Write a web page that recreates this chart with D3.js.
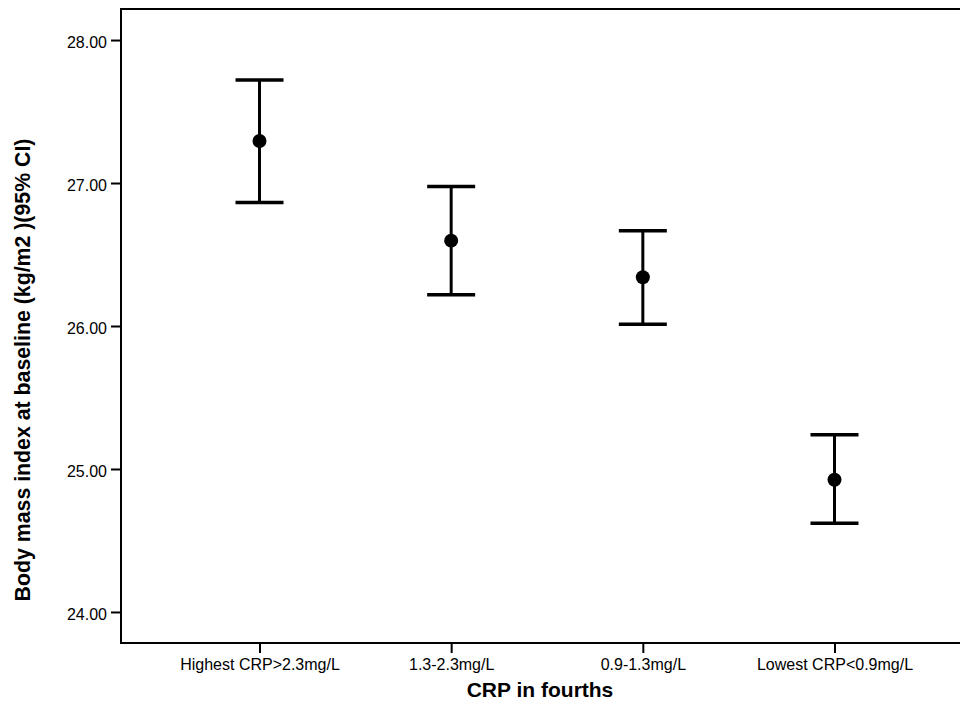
<!DOCTYPE html>
<html>
<head>
<meta charset="utf-8">
<script src="https://cdnjs.cloudflare.com/ajax/libs/d3/7.8.5/d3.min.js"></script>
<style>
  body { margin: 0; background: #fff; }
  svg { display: block; font-family: Arial, "Liberation Sans", sans-serif; }
</style>
</head>
<body>
<div class="bigboard"></div>
<script>
// CRP groups and BMI mean with 95% CI
var categories = ["Highest CRP>2.3mg/L", "1.3-2.3mg/L", "0.9-1.3mg/L", "Lowest CRP<0.9mg/L"];
var means = [27.294, 26.597, 26.341, 24.925];
var lower = [26.864, 26.218, 26.013, 24.620];
var upper = [27.720, 26.975, 26.667, 25.239];
var yTicks = [24, 25, 26, 27, 28];

var width = 960, height = 704;
var margin = { top: 9, left: 121, right: -13, bottom: 61 };
var plotW = width - margin.left - margin.right;
var plotH = height - margin.top - margin.bottom;

var svg = d3.select('.bigboard').append('svg')
  .attr('width', width)
  .attr('height', height)

var x = d3.scalePoint()
  .domain(categories)
  .range([margin.left, margin.left + plotW])
  .padding(0.7226)

var y = d3.scaleLinear()
  .domain([23.783, 28.217])
  .range([margin.top + plotH, margin.top])

// frame
svg.append('rect')
  .attr('x', margin.left)
  .attr('y', margin.top)
  .attr('width', plotW)
  .attr('height', plotH)
  .attr('fill', 'none')
  .attr('stroke', '#000')
  .attr('stroke-width', 2)

var yAxis = svg.append('g')
  .attr('transform', 'translate(' + margin.left + ',0)')
  .call(d3.axisLeft(y).tickValues(yTicks).tickSize(10).tickPadding(4)
    .tickFormat(function(d){ return d3.format('.2f')(d) }))
yAxis.select('.domain').remove()
yAxis.selectAll('line').attr('stroke-width', 2)
yAxis.selectAll('text')
  .attr('font-size', '16px')
  .attr('font-family', null)
  .attr('dy', null)
  .attr('y', 7.5)
  .attr('fill', '#000')

var xAxis = svg.append('g')
  .attr('transform', 'translate(0,' + (margin.top + plotH) + ')')
  .call(d3.axisBottom(x).tickSize(10).tickPadding(6))
xAxis.select('.domain').remove()
xAxis.selectAll('line').attr('stroke-width', 2)
xAxis.selectAll('text')
  .attr('font-size', '16px')
  .attr('font-family', null)
  .attr('fill', '#000')

// axis titles
svg.append('text')
  .attr('x', 540)
  .attr('y', 697)
  .attr('text-anchor', 'middle')
  .attr('font-size', '21px')
  .attr('font-weight', 'bold')
  .text('CRP in fourths')

svg.append('text')
  .attr('transform', 'translate(30,370) rotate(-90)')
  .attr('text-anchor', 'middle')
  .attr('font-size', '21.3px')
  .attr('font-weight', 'bold')
  .text('Body mass index at baseline (kg/m2 )(95% CI)')

// error bars
var bars = svg.selectAll('.errbar')
  .data(categories).enter().append('g')
  .attr('class', 'errbar')

bars.append('line')
  .attr('x1', function(d){ return x(d) })
  .attr('x2', function(d){ return x(d) })
  .attr('y1', function(d,i){ return y(lower[i]) })
  .attr('y2', function(d,i){ return y(upper[i]) })
  .attr('stroke', '#000')
  .attr('stroke-width', 3)

bars.selectAll('.cap')
  .data(function(d,i){ return [[d, lower[i]], [d, upper[i]]] })
  .enter().append('line')
  .attr('class', 'cap')
  .attr('x1', function(d){ return x(d[0]) - 24 })
  .attr('x2', function(d){ return x(d[0]) + 24 })
  .attr('y1', function(d){ return y(d[1]) })
  .attr('y2', function(d){ return y(d[1]) })
  .attr('stroke', '#000')
  .attr('stroke-width', 3.5)

bars.append('circle')
  .attr('cx', function(d){ return x(d) })
  .attr('cy', function(d,i){ return y(means[i]) })
  .attr('r', 7)
  .attr('fill', '#000')
</script>
</body>
</html>
